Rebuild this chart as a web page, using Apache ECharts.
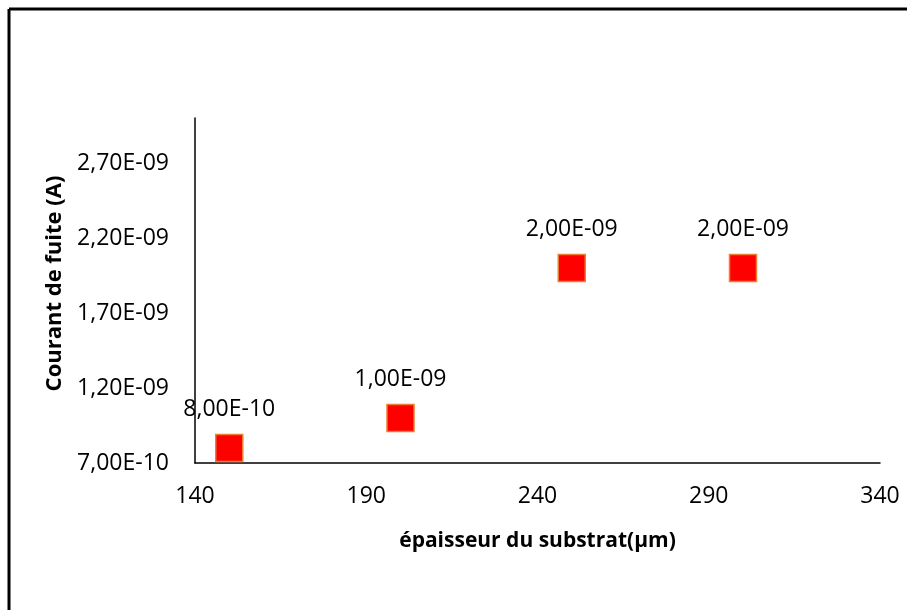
<!DOCTYPE html>
<html>
<head>
<meta charset="utf-8">
<script src="https://cdn.jsdelivr.net/npm/echarts@6/dist/echarts.min.js"></script>
<style>
html,body{margin:0;padding:0;background:#fff;}
#c{width:907px;height:610px;}
</style>
</head>
<body>
<div id="c"></div>
<script>
var thickness = [150, 200, 250, 300];
var leakage = [8.0e-10, 1.0e-9, 2.0e-9, 2.0e-9];
var xTitle = 'épaisseur du substrat(µm)';
var yTitle = 'Courant de fuite (A)';

function fmtE(v) {
  var s = Number(v).toExponential(2);
  var parts = s.split('e');
  var mant = parts[0].replace('.', ',');
  var exp = parseInt(parts[1], 10);
  var sign = exp < 0 ? '-' : '+';
  var a = Math.abs(exp);
  return mant + 'E' + sign + (a < 10 ? '0' + a : '' + a);
}

var font = 'Open Sans, Liberation Sans, sans-serif';
var chart = echarts.init(document.getElementById('c'));
chart.setOption({
  animation: false,
  backgroundColor: '#fff',
  grid: {left: 195, right: 27, top: 118, bottom: 147},
  xAxis: {
    type: 'value', min: 140, max: 340, interval: 50,
    name: xTitle, nameLocation: 'middle', nameGap: 68,
    nameTextStyle: {fontFamily: font, fontSize: 21, fontWeight: 'bold', color: '#000'},
    axisLine: {show: true, lineStyle: {color: '#000', width: 1.5}},
    axisTick: {show: false},
    splitLine: {show: false},
    axisLabel: {fontFamily: font, fontSize: 23, color: '#000', margin: 22}
  },
  yAxis: {
    type: 'value', min: 7e-10, max: 3e-9, interval: 5e-10,
    name: yTitle, nameLocation: 'middle', nameGap: 128,
    nameTextStyle: {fontFamily: font, fontSize: 22, fontWeight: 'bold', color: '#000', padding: [0, 0, 0, 14]},
    axisLine: {show: true, lineStyle: {color: '#000', width: 1.5}},
    axisTick: {show: false},
    splitLine: {show: false},
    axisLabel: {fontFamily: font, fontSize: 23, color: '#000', margin: 26, showMaxLabel: false,
      formatter: function (v) { return fmtE(v); }}
  },
  series: [{
    type: 'scatter',
    symbol: 'rect',
    symbolSize: 27,
    data: thickness.map(function (t, i) { return [t, leakage[i]]; }),
    itemStyle: {color: '#ff0000', borderColor: '#ED7D31', borderWidth: 1.5, opacity: 1},
    label: {
      show: true, position: 'top', distance: 13,
      fontFamily: font, fontSize: 23, color: '#000',
      formatter: function (p) { return fmtE(p.value[1]); }
    }
  }],
  graphic: [
    {type: 'line', shape: {x1: 9, y1: 9, x2: 907, y2: 9}, style: {stroke: '#000', lineWidth: 3}},
    {type: 'line', shape: {x1: 9, y1: 9, x2: 9, y2: 610}, style: {stroke: '#000', lineWidth: 3}}
  ]
});
</script>
</body>
</html>
